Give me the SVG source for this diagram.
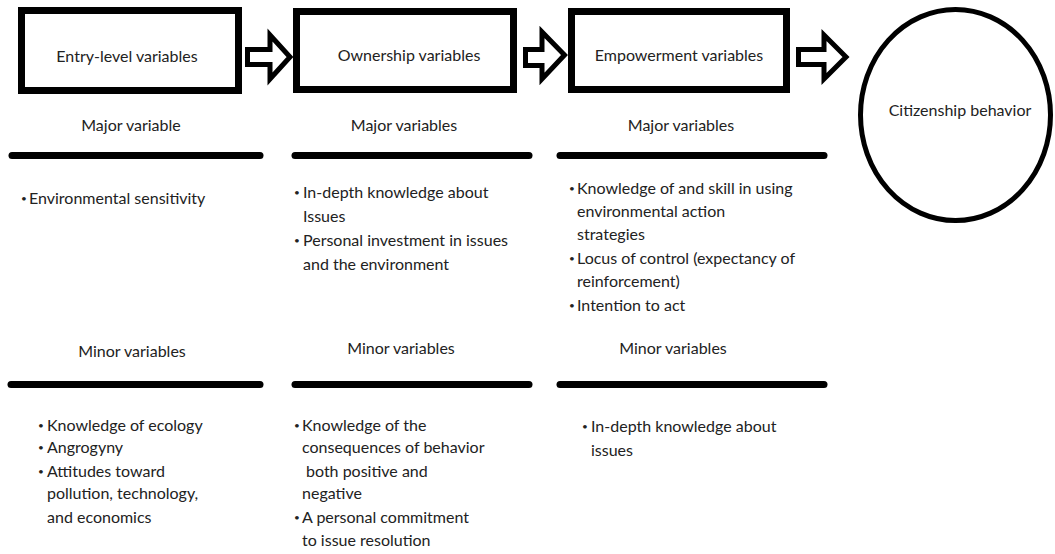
<svg xmlns="http://www.w3.org/2000/svg" width="1055" height="554" viewBox="0 0 1055 554">
<style>
text{font-family:Lato,"Open Sans","Liberation Sans",sans-serif;font-size:16px;fill:#222}
.c{text-anchor:middle}
.b{font-size:10px}
.box{fill:#fff;stroke:#000;stroke-width:7}
.arr{fill:#fff;stroke:#000;stroke-width:5;stroke-linejoin:miter}
.bar{stroke:#000;stroke-width:7;stroke-linecap:round}
</style>
<rect width="1055" height="554" fill="#fff"/>
<g id="connectors">
<polygon class="arr" points="247.5,49.5 270,49.5 270,35 290,57 270,79 270,64.5 247.5,64.5"/>
<polygon class="arr" points="525.5,49.5 542,49.5 542,32 564.5,55 542,79 542,65.5 525.5,65.5"/>
<polygon class="arr" points="798.5,49.5 824,49.5 824,35 846,57 824,79 824,64.5 798.5,64.5"/>
</g>
<g id="node-entry">
<rect class="box" x="21.5" y="10.5" width="217" height="80"/>
<text class="c" x="127" y="62">Entry-level variables</text>
</g>
<g id="node-ownership">
<rect class="box" x="296.5" y="11.5" width="217" height="78"/>
<text class="c" x="409" y="61">Ownership variables</text>
</g>
<g id="node-empowerment">
<rect class="box" x="571.5" y="11.5" width="215" height="78"/>
<text class="c" x="679" y="61">Empowerment variables</text>
</g>
<g id="node-citizenship">
<ellipse cx="955.5" cy="115" rx="95" ry="105.5" fill="#fff" stroke="#000" stroke-width="5"/>
<text class="c" x="960" y="116">Citizenship behavior</text>
</g>
<g id="col-entry">
<text class="c" x="131" y="131">Major variable</text>
<line class="bar" x1="12" y1="155.5" x2="260" y2="155.5"/>
<text class="b" x="21" y="202">•</text><text x="29" y="204">Environmental sensitivity</text>
<text class="c" x="132" y="357">Minor variables</text>
<line class="bar" x1="11" y1="384.5" x2="260" y2="384.5"/>
<text class="b" x="38" y="429">•</text><text x="47" y="431">Knowledge of ecology</text>
<text class="b" x="38" y="451">•</text><text x="47" y="453">Angrogyny</text>
<text class="b" x="38" y="475">•</text><text x="47" y="477">Attitudes toward</text>
<text x="47" y="499">pollution, technology,</text>
<text x="47" y="523">and economics</text>
</g>
<g id="col-ownership">
<text class="c" x="404" y="131">Major variables</text>
<line class="bar" x1="295" y1="155.5" x2="529" y2="155.5"/>
<text class="b" x="294" y="196">•</text><text x="303" y="198">In-depth knowledge about</text>
<text x="303" y="222">Issues</text>
<text class="b" x="294" y="244">•</text><text x="303" y="246">Personal investment in issues</text>
<text x="303" y="270">and the environment</text>
<text class="c" x="401" y="354">Minor variables</text>
<line class="bar" x1="295" y1="384.5" x2="529" y2="384.5"/>
<text class="b" x="294" y="429">•</text><text x="302" y="431">Knowledge of the</text>
<text x="302" y="453">consequences of behavior</text>
<text x="306" y="477">both positive and</text>
<text x="302" y="499">negative</text>
<text class="b" x="294" y="521">•</text><text x="302" y="523">A personal commitment</text>
<text x="302" y="546">to issue resolution</text>
</g>
<g id="col-empowerment">
<text class="c" x="681" y="131">Major variables</text>
<line class="bar" x1="560" y1="155.5" x2="824" y2="155.5"/>
<text class="b" x="569" y="192">•</text><text x="577" y="194">Knowledge of and skill in using</text>
<text x="577" y="217">environmental action</text>
<text x="577" y="240">strategies</text>
<text class="b" x="569" y="262">•</text><text x="577" y="264">Locus of control (expectancy of</text>
<text x="577" y="287">reinforcement)</text>
<text class="b" x="569" y="309">•</text><text x="577" y="311">Intention to act</text>
<text class="c" x="673" y="354">Minor variables</text>
<line class="bar" x1="560" y1="384.5" x2="824" y2="384.5"/>
<text class="b" x="582" y="430">•</text><text x="591" y="432">In-depth knowledge about</text>
<text x="591" y="456">issues</text>
</g>
</svg>
